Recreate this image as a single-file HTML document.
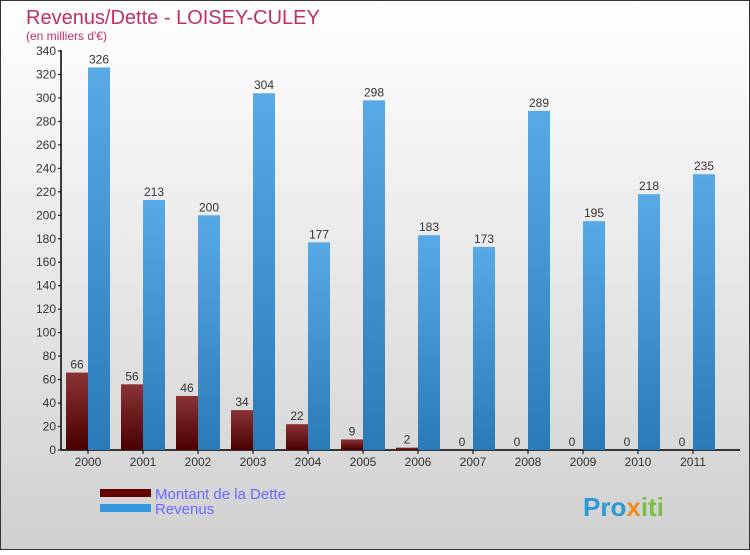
<!DOCTYPE html>
<html><head><meta charset="utf-8"><style>
body{margin:0}
svg text{font-family:"Liberation Sans",sans-serif}
</style></head><body>
<svg id="c" width="750" height="550" xmlns="http://www.w3.org/2000/svg">
<defs>
<linearGradient id="bg" x1="0" y1="0" x2="0" y2="1"><stop offset="0" stop-color="#ffffff"/><stop offset="1" stop-color="#d0d0d0"/></linearGradient>
<linearGradient id="gd" x1="0" y1="0" x2="0" y2="1"><stop offset="0" stop-color="#8a3336"/><stop offset="1" stop-color="#4a0000"/></linearGradient>
<linearGradient id="gr" x1="0" y1="0" x2="0" y2="1"><stop offset="0" stop-color="#58aae6"/><stop offset="1" stop-color="#2a7ab8"/></linearGradient>
</defs>
<rect x="0.5" y="0.5" width="749" height="549" fill="url(#bg)" stroke="#333"/>
<text x="26" y="24" font-size="20" fill="#c0305e">Revenus/Dette - LOISEY-CULEY</text>
<text x="26" y="40" font-size="12" fill="#c0305e">(en milliers d'€)</text>
<g id="axes"></g>
<g id="bars"></g>
<rect x="100" y="489" width="51" height="8" fill="#640000"/>
<text x="155" y="499" font-size="15" fill="#6a6aff">Montant de la Dette</text>
<rect x="100" y="504" width="51" height="8" fill="#3399dd"/>
<text x="155" y="514" font-size="15" fill="#6a6aff">Revenus</text>
<text x="583" y="516" font-size="26" font-weight="bold" fill="#2a9ad8">Pro<tspan fill="#f08a1a">x</tspan><tspan fill="#7ac043">iti</tspan></text>
</svg>
<script>
const years=["2000","2001","2002","2003","2004","2005","2006","2007","2008","2009","2010","2011"];
const dette=[66,56,46,34,22,9,2,0,0,0,0,0];
const revenus=[326,213,200,304,177,298,183,173,289,195,218,235];
const ticks=[0,20,40,60,80,100,120,140,160,180,200,220,240,260,280,300,320,340];
const NS="http://www.w3.org/2000/svg";
const y0=450,yTop=51,maxV=340;
const y=v=>y0-(v/maxV)*(y0-yTop);
const xc=i=>88+55*i;
function mk(t,a,p){const e=document.createElementNS(NS,t);for(const k in a)e.setAttribute(k,a[k]);p.appendChild(e);return e;}
const ax=document.getElementById('axes'),bs=document.getElementById('bars');
let l=mk('line',{x1:61,y1:y0,x2:61,y2:yTop-1,stroke:'#000','stroke-width':1.5},ax);


l=mk('line',{x1:61,y1:y0,x2:740,y2:y0,stroke:'#000','stroke-width':1.5},ax);


ticks.forEach(t=>{
 const tk=mk('line',{x1:58,x2:61,y1:y(t),y2:y(t),stroke:'#000'},ax);
 
 
 const tx=mk('text',{x:56,y:y(t)+4,'font-size':12,'text-anchor':'end',fill:'#333'},ax);
 tx.textContent=t;
 
 
});
years.forEach((yr,i)=>{
 const c=xc(i);
 const tk=mk('line',{x1:c,x2:c,y1:y0,y2:y0+4,stroke:'#000'},ax);
 
 
 const tx=mk('text',{x:c,y:y0+16,'font-size':12,'text-anchor':'middle',fill:'#333'},ax);
 tx.textContent=yr;
 
 
 const d=mk('rect',{x:c-22,y:y(dette[i]),width:22,height:y0-y(dette[i]),fill:'url(#gd)'},bs);
 
 
 const dl=mk('text',{x:c-11,y:y(dette[i])-4,'font-size':12,'text-anchor':'middle',fill:'#333'},bs);
 dl.textContent=dette[i];
 
 
 const r=mk('rect',{x:c,y:y(revenus[i]),width:22,height:y0-y(revenus[i]),fill:'url(#gr)'},bs);
 
 
 const rl=mk('text',{x:c+11,y:y(revenus[i])-4,'font-size':12,'text-anchor':'middle',fill:'#333'},bs);
 rl.textContent=revenus[i];
 
 
});
</script>
</body></html>
